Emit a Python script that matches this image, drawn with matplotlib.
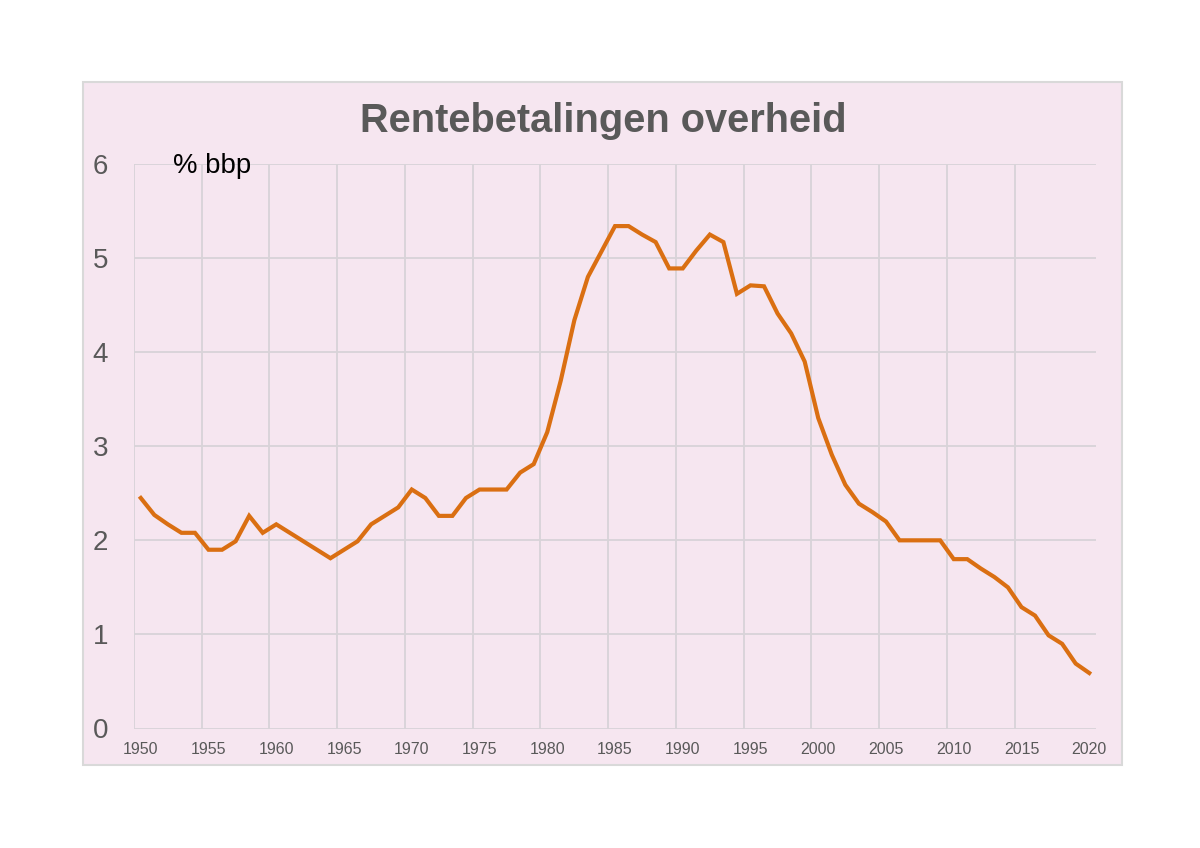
import matplotlib.pyplot as plt
from matplotlib.patches import Rectangle

plt.rcParams["font.family"] = ["Liberation Sans", "DejaVu Sans"]

# rentebetalingen overheid, % bbp
years = list(range(1950, 2021))
rente = [
    2.45, 2.27, 2.17, 2.08, 2.08, 1.90, 1.90, 1.99, 2.26, 2.08,  # 1950-1959
    2.17, 2.08, 1.99, 1.90, 1.81, 1.90, 1.99, 2.17, 2.26, 2.35,  # 1960-1969
    2.54, 2.45, 2.26, 2.26, 2.45, 2.54, 2.54, 2.54, 2.72, 2.81,  # 1970-1979
    3.15, 3.70, 4.34, 4.80, 5.07, 5.34, 5.34, 5.25, 5.17, 4.89,  # 1980-1989
    4.89, 5.08, 5.25, 5.17, 4.62, 4.71, 4.70, 4.41, 4.20, 3.90,  # 1990-1999
    3.30, 2.91, 2.59, 2.39, 2.30, 2.20, 2.00, 2.00, 2.00, 2.00,  # 2000-2009
    1.80, 1.80, 1.70, 1.61, 1.50, 1.29, 1.20, 0.99, 0.90, 0.69,  # 2010-2019
    0.59,                                                        # 2020
]
tick_years = list(range(1950, 2021, 5))
y_ticks = [0, 1, 2, 3, 4, 5, 6]

BG = "#F6E6F0"
GRID = "#D8D3D8"
LINE = "#DA6F12"
TEXT = "#595959"

fig = plt.figure(figsize=(12, 8.48), dpi=100)
fig.patch.set_facecolor("white")

# roze kader achter de grafiek
W, H = 1200, 848
fig.patches.append(Rectangle((83 / W, 1 - 765 / H), (1122 - 83) / W, (765 - 82) / H,
                             transform=fig.transFigure, facecolor=BG,
                             edgecolor="#D9D9D9", linewidth=1.5, zorder=-10))

ax = fig.add_axes([134 / W, 1 - 728.5 / H, (1096 - 134) / W, (728.5 - 164) / H])
ax.set_zorder(1)
ax.set_facecolor("none")

ax.plot(years, rente, color=LINE, linewidth=3, solid_joinstyle="miter", zorder=3)

ax.set_xlim(1949.5, 2020.5)
ax.set_ylim(0, 6)

# verticale lijnen tussen de categorieen (zoals Excel)
for b in range(1950, 2020, 5):
    ax.axvline(b - 0.5, color=GRID, linewidth=1.3, zorder=1)
for v in y_ticks:
    ax.axhline(v, color=GRID, linewidth=1.3, zorder=1)

ax.set_xticks(tick_years)
ax.set_xticklabels([str(y) for y in tick_years], fontsize=11.5, color=TEXT)
ax.set_yticks(y_ticks)
ax.set_yticklabels([str(v) for v in y_ticks], fontsize=20, color=TEXT)
ax.tick_params(axis="x", length=0, pad=9.5)
ax.tick_params(axis="y", length=0, pad=18.5)
for s in ax.spines.values():
    s.set_visible(False)

fig.text(603 / W, 1 - 131.5 / H, "Rentebetalingen overheid", ha="center", va="baseline",
         fontsize=28.6, fontweight="bold", color=TEXT)
fig.text(173 / W, 1 - 173 / H, "% bbp", ha="left", va="baseline",
         fontsize=19.8, color="black")

fig.savefig("out.png", dpi=100)
